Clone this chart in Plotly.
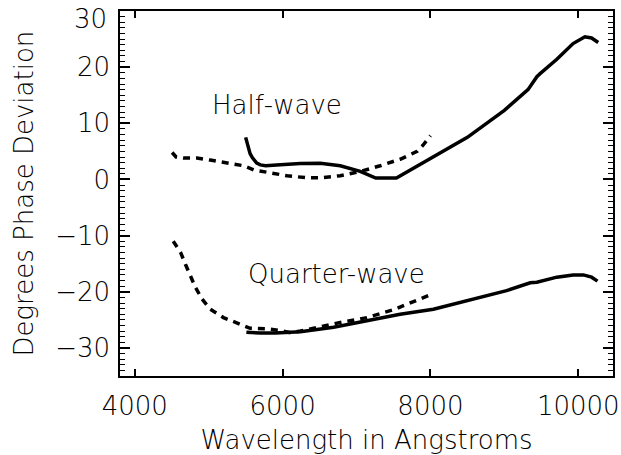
import plotly.graph_objects as go

# Half-wave retarder: measured (solid) and design (dashed) phase deviation
half_meas_wl = [5500, 5560, 5590, 5620, 5650, 5700, 5770, 5970, 6240, 6510, 6780,
                7050, 7260, 7540, 7600, 8000, 8500, 9000, 9320, 9440, 9480,
                9710, 9930, 10090, 10180, 10270]
half_meas_dev = [7.5, 4.6, 3.9, 3.3, 2.9, 2.6, 2.45, 2.6, 2.85, 2.9, 2.45,
                 1.45, 0.25, 0.25, 0.7, 3.8, 7.5, 12.3, 16.0, 18.3, 18.8,
                 21.4, 24.2, 25.4, 25.2, 24.4]

half_model_wl = [4505, 4560, 4660, 4840, 5020, 5290, 5470, 5610, 5790, 6060,
                 6330, 6510, 6780, 7050, 7320, 7590, 7820, 7900, 8000]
half_model_dev = [4.8, 4.0, 3.8, 3.8, 3.45, 2.85, 2.45, 1.7, 1.25, 0.66,
                  0.3, 0.3, 0.66, 1.42, 2.44, 3.6, 5.0, 6.1, 7.8]

# Quarter-wave retarder
quarter_meas_wl = [5510, 5700, 5900, 6240, 6690, 7140, 7590, 8040, 8540, 9030,
                   9350, 9440, 9710, 9930, 10070, 10180, 10260]
quarter_meas_dev = [-27.2, -27.35, -27.35, -27.1, -26.3, -25.1, -24.0, -23.1, -21.5, -19.8,
                    -18.4, -18.3, -17.4, -17.0, -17.0, -17.4, -18.1]

quarter_model_wl = [4520, 4620, 4685, 4750, 4820, 4910, 5020, 5200, 5380, 5560,
                    5790, 5970, 6110, 6240, 6690, 7140, 7500, 7730, 7970]
quarter_model_dev = [-11.0, -13.0, -15.1, -17.1, -19.2, -21.3, -23.1, -24.6, -25.6, -26.5,
                     -26.6, -26.9, -27.3, -27.0, -25.7, -24.6, -23.2, -21.9, -20.7]

x_ticks = [4000, 6000, 8000, 10000]
y_ticks = [-30, -20, -10, 0, 10, 20]
y_top = 30  # top of the axis; its label sits just inside the page edge


def signed(v):
    return str(v).replace("-", "\u2212")


FONT = dict(family="DejaVu Sans", size=26, color="black", weight=200)
solid = dict(color="black", width=3.5)
dashed = dict(color="black", width=3.5, dash="7px,6px")

fig = go.Figure()
fig.add_trace(go.Scatter(x=half_meas_wl, y=half_meas_dev, mode="lines", line=solid))
fig.add_trace(go.Scatter(x=half_model_wl, y=half_model_dev, mode="lines", line=dashed))
fig.add_trace(go.Scatter(x=quarter_meas_wl, y=quarter_meas_dev, mode="lines", line=solid))
fig.add_trace(go.Scatter(x=quarter_model_wl, y=quarter_model_dev, mode="lines", line=dashed))

fig.add_annotation(x=5013, y=13.3, text="Half-wave", showarrow=False,
                   xanchor="left", yanchor="middle", font=FONT)
fig.add_annotation(x=5509, y=-16.9, text="Quarter-wave", showarrow=False,
                   xanchor="left", yanchor="middle", font=FONT)
fig.add_annotation(xref="paper", x=0, y=y_top, text=signed(y_top), showarrow=False,
                   xanchor="right", yanchor="middle", xshift=-11, yshift=-8,
                   font=FONT)
# y-axis title
fig.add_annotation(xref="paper", yref="paper", x=0, y=0.5, xshift=-97,
                   text="Degrees Phase Deviation", textangle=-90, showarrow=False,
                   xanchor="center", yanchor="middle", font=FONT)

fig.update_layout(
    width=621, height=455, showlegend=False,
    paper_bgcolor="white", plot_bgcolor="white",
    margin=dict(l=120, r=8, t=11, b=79, autoexpand=False),
    xaxis=dict(range=[3800, 10470], tickmode="array", tickvals=x_ticks, tickformat="d",
               ticks="inside", ticklen=7, tickwidth=1.5, tickcolor="black",
               mirror="allticks", showline=True, linecolor="black", linewidth=1.5,
               showgrid=False, zeroline=False, tickfont=FONT, ticklabelstandoff=6,
               automargin=False, ticklabeloverflow="allow",
               title=dict(text="Wavelength in Angstroms", font=FONT, standoff=11)),
    yaxis=dict(range=[-35, y_top], tickmode="array", tickvals=y_ticks + [y_top],
               ticktext=[signed(v) for v in y_ticks] + [""],
               ticks="inside", ticklen=10, tickwidth=1.5, tickcolor="black",
               minor=dict(tickmode="linear", tick0=0, dtick=1, ticks="inside",
                          ticklen=5, tickwidth=1, tickcolor="black"),
               mirror="allticks", showline=True, linecolor="black", linewidth=1.5,
               showgrid=False, zeroline=False, tickfont=FONT, ticklabelstandoff=3,
               automargin=False, ticklabeloverflow="allow"),
)

fig.write_html("out.html")
